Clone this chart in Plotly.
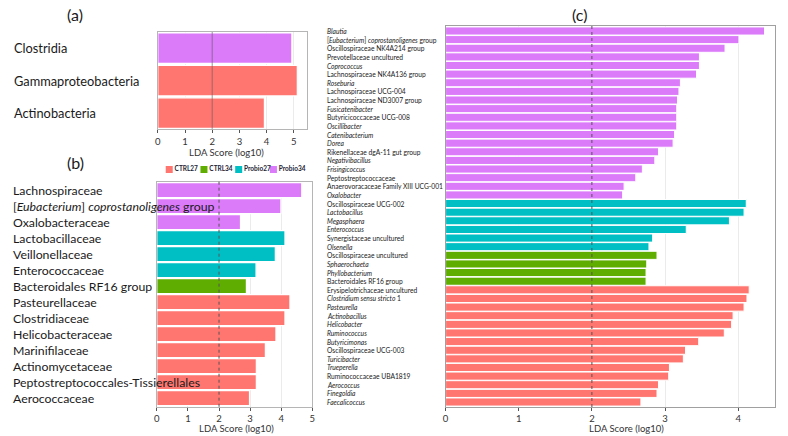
import plotly.graph_objects as go

# ---------------- data ----------------
group_names = ["CTRL27", "CTRL34", "Probio27", "Probio34"]
group_colors = {"CTRL27": "#FF7670", "CTRL34": "#5EAD00", "Probio27": "#00BFC4", "Probio34": "#DC7BFA"}

a_labels = ["Clostridia", "Gammaproteobacteria", "Actinobacteria"]
a_values = [4.93, 5.13, 3.92]
a_groups = ["Probio34", "CTRL27", "CTRL27"]

b_labels = ["Lachnospiraceae", "[<i>Eubacterium</i>] <i>coprostanoligenes</i> group", "Oxalobacteraceae",
            "Lactobacillaceae", "Veillonellaceae", "Enterococcaceae", "Bacteroidales RF16 group",
            "Pasteurellaceae", "Clostridiaceae", "Helicobacteraceae", "Marinifilaceae",
            "Actinomycetaceae", "Peptostreptococcales-Tissierellales", "Aerococcaceae"]
b_values = [4.66, 3.99, 2.69, 4.12, 3.81, 3.19, 2.88, 4.28, 4.12, 3.83, 3.49, 3.20, 3.20, 2.98]
b_groups = ["Probio34"] * 3 + ["Probio27"] * 3 + ["CTRL34"] + ["CTRL27"] * 7

c_labels = ["<i>Blautia</i>", "[<i>Eubacterium</i>] <i>coprostanoligenes</i> group",
            "Oscillospiraceae NK4A214 group", "Prevotellaceae uncultured", "<i>Coprococcus</i>",
            "Lachnospiraceae NK4A136 group", "<i>Roseburia</i>", "Lachnospiraceae UCG-004",
            "Lachnospiraceae ND3007 group", "<i>Fusicatenibacter</i>", "Butyricicoccaceae UCG-008",
            "<i>Oscillibacter</i>", "<i>Catenibacterium</i>", "<i>Dorea</i>",
            "Rikenellaceae dgA-11 gut group", "<i>Negativibacillus</i>", "<i>Frisingicoccus</i>",
            "Peptostreptococcaceae", "Anaerovoracaceae Family XIII UCG-001", "<i>Oxalobacter</i>",
            "Oscillospiraceae UCG-002", "<i>Lactobacillus</i>", "<i>Megasphaera</i>", "<i>Enterococcus</i>",
            "Synergistaceae uncultured", "<i>Olsenella</i>",
            "Oscillospiraceae uncultured", "<i>Sphaerochaeta</i>", "<i>Phyllobacterium</i>",
            "Bacteroidales RF16 group",
            "Erysipelotrichaceae uncultured", "<i>Clostridium sensu stricto</i> 1", "<i>Pasteurella</i>",
            "<i>Actinobacillus</i>", "<i>Helicobacter</i>", "<i>Ruminococcus</i>", "<i>Butyricimonas</i>",
            "Oscillospiraceae UCG-003", "<i>Turicibacter</i>", "<i>Trueperella</i>",
            "Ruminococcaceae UBA1819", "<i>Aerococcus</i>", "<i>Finegoldia</i>", "<i>Faecalicoccus</i>"]
c_values = [4.36, 4.01, 3.82, 3.47, 3.47, 3.43, 3.21, 3.19, 3.17, 3.16, 3.16, 3.16, 3.13, 3.11,
            2.91, 2.86, 2.69, 2.60, 2.44, 2.42,
            4.11, 4.08, 3.88, 3.29, 2.83, 2.78,
            2.89, 2.75, 2.74, 2.74,
            4.15, 4.12, 4.08, 3.93, 3.91, 3.81, 3.46, 3.28, 3.25, 3.06, 3.05, 2.91, 2.89, 2.67]
c_groups = ["Probio34"] * 20 + ["Probio27"] * 6 + ["CTRL34"] * 4 + ["CTRL27"] * 14

lda_threshold = 2
axis_title = "LDA Score (log10)"

# ---------------- figure ----------------
W, H = 788, 436
def px(x): return x / W
def py(y): return 1 - y / H

fig = go.Figure()

panels = [
    ("x", "y", a_labels, a_values, a_groups),
    ("x2", "y2", b_labels, b_values, b_groups),
    ("x3", "y3", c_labels, c_values, c_groups),
]
for xa, ya, labs, vals, grps in panels:
    fig.add_trace(go.Bar(
        x=vals, y=labs, orientation="h", xaxis=xa, yaxis=ya,
        marker=dict(color=[group_colors[g] for g in grps],
                    line=dict(color="white", width=1 if xa == "x3" else 1.2)),
        showlegend=False, hoverinfo="x+y",
    ))

# legend built on a hidden axis
fig.add_trace(go.Scatter(
    x=list(range(len(group_names))), y=[0] * len(group_names), xaxis="x4", yaxis="y4",
    mode="markers+text", text=["<b>" + g + "</b>" for g in group_names],
    textposition="middle right",
    textfont=dict(size=6.5, color="#222233", family="Lato"),
    marker=dict(symbol="square", size=7, color=[group_colors[g] for g in group_names]),
    showlegend=False, hoverinfo="skip", cliponaxis=False,
))

axis_common = dict(showgrid=True, gridcolor="#EBEBEB", gridwidth=1, zeroline=False,
                   showline=True, linecolor="#B5B5B5", linewidth=1, mirror=True,
                   ticks="outside", ticklen=3, tickcolor="#555555",
                   tickfont=dict(size=9.5, color="#333333", family="Lato"), dtick=1)

fig.update_layout(
    width=W, height=H, margin=dict(l=0, r=0, t=0, b=0),
    paper_bgcolor="white", plot_bgcolor="white", bargap=0.06,
    xaxis=dict(domain=[px(156), px(306.7)], range=[0, 5.5], anchor="y", **axis_common),
    yaxis=dict(domain=[py(129.3), py(32)], anchor="x", autorange="reversed",
               showticklabels=False, showline=True, linecolor="#B5B5B5", mirror=True, ticks=""),
    xaxis2=dict(domain=[px(155), px(311.7)], range=[0, 5], anchor="y2", **axis_common),
    yaxis2=dict(domain=[py(406.7), py(181.7)], anchor="x2", autorange="reversed",
                showticklabels=False, showline=True, linecolor="#B5B5B5", mirror=True, ticks=""),
    xaxis3=dict(domain=[px(446), px(777.7)], range=[0, 4.5], anchor="y3", **axis_common),
    yaxis3=dict(domain=[py(407), py(26)], anchor="x3", autorange="reversed",
                showticklabels=False, showline=True, linecolor="#A0A0A0", mirror=True, ticks=""),
    xaxis4=dict(domain=[px(150), px(310)], range=[-0.5, -0.5 + 160 / 35], anchor="y4", visible=False),
    yaxis4=dict(domain=[py(176), py(163)], range=[-1, 1], anchor="x4", visible=False),
)
fig.update_xaxes(linecolor="#A0A0A0", selector=dict(anchor="y3"))

# threshold lines
for xa, ya, dash, col in [("x", "y", "solid", "rgba(90,90,90,0.6)"),
                          ("x2", "y2", "dot", "#555555"), ("x3", "y3", "dot", "#555555")]:
    fig.add_shape(type="line", xref=xa, yref=ya + " domain", x0=lda_threshold, x1=lda_threshold,
                  y0=0, y1=1, line=dict(color=col, width=1, dash=dash), layer="above")

annotations = []
# category labels (left aligned, like the reference)
for labs, ya, xleft, size in [(a_labels, "y", 10, 12.8), (b_labels, "y2", 9, 12.3), (c_labels, "y3", 325.5, 6.7)]:
    for lab in labs:
        annotations.append(dict(text=lab, xref="paper", x=px(xleft), xanchor="left",
                                yref=ya, y=lab, yanchor="middle", showarrow=False, borderpad=0,
                                font=dict(size=size, color="#1a1a1a", family="Lato")))
# axis titles
for x, y in [(225, 152), (235, 428), (628, 428)]:
    annotations.append(dict(text=axis_title, xref="paper", yref="paper", x=px(x), y=py(y),
                            xanchor="center", yanchor="middle", showarrow=False, borderpad=0,
                            font=dict(size=9.5, color="#333333", family="Lato")))
# panel titles
for t, x, y in [("(a)", 73, 15), ("(b)", 73, 162), ("(c)", 581, 15)]:
    annotations.append(dict(text=t, xref="paper", yref="paper", x=px(x), y=py(y),
                            xanchor="center", yanchor="middle", showarrow=False,
                            font=dict(size=16, color="#1a1a1a", family="Lato")))
fig.update_layout(annotations=annotations)

fig.write_html("out.html")
